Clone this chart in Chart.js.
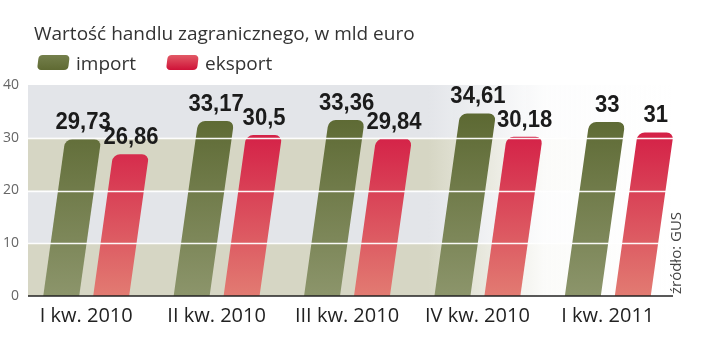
<!DOCTYPE html>
<html>
<head>
<meta charset="utf-8">
<style>
  html, body { margin: 0; padding: 0; background: #fff; }
</style>
<script src="https://cdn.jsdelivr.net/npm/chart.js"></script>
</head>
<body>
<canvas id="chart" width="720" height="342"></canvas>
<script>
// data
const categories = ['I kw. 2010', 'II kw. 2010', 'III kw. 2010', 'IV kw. 2010', 'I kw. 2011'];
const importValues = [29.73, 33.17, 33.36, 34.61, 33];
const exportValues = [26.86, 30.5, 29.84, 30.18, 31];
const yTicks = [0, 10, 20, 30, 40];
const seriesNames = ['import', 'eksport'];
const titleText = 'Wartość handlu zagranicznego, w mld euro';
const sourceText = 'źródło: GUS';

const SKEW = 0.14;   // bars lean right
const labelFont = 'bold 24px "Liberation Sans", Arial, sans-serif';
const LABEL_SQUEEZE = 0.92;

function fmt(v) {
  return String(v).replace('.', ',');
}

function vGrad(context, top, bottom) {
  const area = context.chart.chartArea;
  if (!area) return top;
  const g = context.chart.ctx.createLinearGradient(0, area.top, 0, area.bottom);
  g.addColorStop(0, top);
  g.addColorStop(1, bottom);
  return g;
}

const slantPlugin = {
  id: 'slant',
  beforeDraw(chart) {
    const ctx = chart.ctx;
    const y = chart.scales.y;
    const left = chart.chartArea.left + 7, right = chart.chartArea.right;
    for (let i = 0; i < yTicks.length - 1; i++) {
      const y1 = y.getPixelForValue(yTicks[i]);
      const y2 = y.getPixelForValue(yTicks[i + 1]);
      const col = i % 2 == 0 ? '214,214,196' : '227,229,233';
      const g = ctx.createLinearGradient(left, 0, right, 0);
      g.addColorStop(0, `rgba(${col},1)`);
      g.addColorStop(0.62, `rgba(${col},1)`);
      g.addColorStop(0.8, `rgba(${col},0.1)`);
      g.addColorStop(1, `rgba(${col},0)`);
      ctx.fillStyle = g;
      ctx.fillRect(left, y2, right - left, y1 - y2);
    }
  },
  beforeDatasetsDraw(chart) {
    const y0 = chart.scales.y.getPixelForValue(0);
    chart.ctx.save();
    chart.ctx.transform(1, 0, -SKEW, 1, SKEW * y0, 0);
  },
  afterDatasetsDraw(chart) {
    const ctx = chart.ctx;
    ctx.restore();
    const y = chart.scales.y;
    const y0 = y.getPixelForValue(0);
    const left = chart.chartArea.left + 7, right = chart.chartArea.right;

    // white grid lines over the bars
    ctx.save();
    ctx.strokeStyle = 'rgba(255,255,255,0.95)';
    ctx.lineWidth = 1.5;
    yTicks.slice(1, -1).forEach(t => {
      const py = Math.round(y.getPixelForValue(t)) + 0.5;
      ctx.beginPath();
      ctx.moveTo(left, py);
      ctx.lineTo(right, py);
      ctx.stroke();
    });
    // base line
    ctx.strokeStyle = '#222';
    ctx.lineWidth = 1.5;
    ctx.beginPath();
    ctx.moveTo(left, y0);
    ctx.lineTo(right, y0);
    ctx.stroke();

    // value labels above the slanted tops
    ctx.font = labelFont;
    ctx.fillStyle = '#1b1b1b';
    ctx.textAlign = 'center';
    ctx.textBaseline = 'alphabetic';
    chart.data.datasets.forEach((ds, di) => {
      chart.getDatasetMeta(di).data.forEach((bar, i) => {
        const cx = bar.x + SKEW * (y0 - bar.y);
        ctx.save();
        ctx.translate(cx, bar.y - 10);
        ctx.scale(LABEL_SQUEEZE, 1);
        ctx.fillText(fmt(ds.data[i]), 0, 0);
        ctx.restore();
      });
    });
    ctx.restore();
  },
  afterDraw(chart) {
    const ctx = chart.ctx;
    ctx.save();
    ctx.fillStyle = '#333';
    ctx.font = '19px "Open Sans", sans-serif';
    ctx.textAlign = 'left';
    ctx.textBaseline = 'alphabetic';
    ctx.fillText(titleText, 34, 40);

    // legend
    const sw = [
      { x: 37, c1: '#75804c', c2: '#5f6a33', text: seriesNames[0], tx: 76 },
      { x: 166, c1: '#e25a66', c2: '#cf1238', text: seriesNames[1], tx: 205 }
    ];
    sw.forEach(s => {
      ctx.save();
      ctx.transform(1, 0, -0.12, 1, 0.12 * 70, 0);
      const g = ctx.createLinearGradient(0, 55, 0, 70);
      g.addColorStop(0, s.c1);
      g.addColorStop(1, s.c2);
      ctx.fillStyle = g;
      ctx.beginPath();
      ctx.roundRect(s.x, 55, 31, 15, 4);
      ctx.fill();
      ctx.restore();
      ctx.fillStyle = '#333';
      ctx.fillText(s.text, s.tx, 70);
    });

    // source, rotated
    ctx.translate(681, 294);
    ctx.rotate(-Math.PI / 2);
    ctx.font = '15px "Open Sans", sans-serif';
    ctx.fillStyle = '#444';
    ctx.fillText(sourceText, 0, 0);
    ctx.restore();
  }
};

new Chart(document.getElementById('chart'), {
  type: 'bar',
  data: {
    labels: categories,
    datasets: [
      {
        label: seriesNames[0],
        data: importValues,
        backgroundColor: c => vGrad(c, '#55622a', '#8c956b'),
        borderRadius: 7,
        borderSkipped: 'start',
        categoryPercentage: 0.766,
        barPercentage: 0.72
      },
      {
        label: seriesNames[1],
        data: exportValues,
        backgroundColor: c => vGrad(c, '#d0063a', '#e27b72'),
        borderRadius: 7,
        borderSkipped: 'start',
        categoryPercentage: 0.766,
        barPercentage: 0.72
      }
    ]
  },
  options: {
    responsive: false,
    animation: false,
    layout: { padding: { top: 85, right: 47, left: 0, bottom: 0 } },
    plugins: {
      legend: { display: false },
      tooltip: { enabled: false }
    },
    scales: {
      x: {
        grid: { display: false, drawTicks: false },
        border: { display: false },
        ticks: {
          color: '#222',
          font: { family: 'Open Sans', size: 20 },
          padding: 8,
          maxRotation: 0,
          autoSkip: false
        },
        afterFit(s) { s.height = 46; }
      },
      y: {
        min: 0,
        max: 40,
        grid: { display: false, drawTicks: false },
        border: { display: false },
        ticks: {
          stepSize: 10,
          color: '#666',
          font: { family: 'Open Sans', size: 14 },
          padding: 2
        },
        afterFit(s) { s.width = 21; }
      }
    }
  },
  plugins: [slantPlugin]
});
</script>
</body>
</html>
